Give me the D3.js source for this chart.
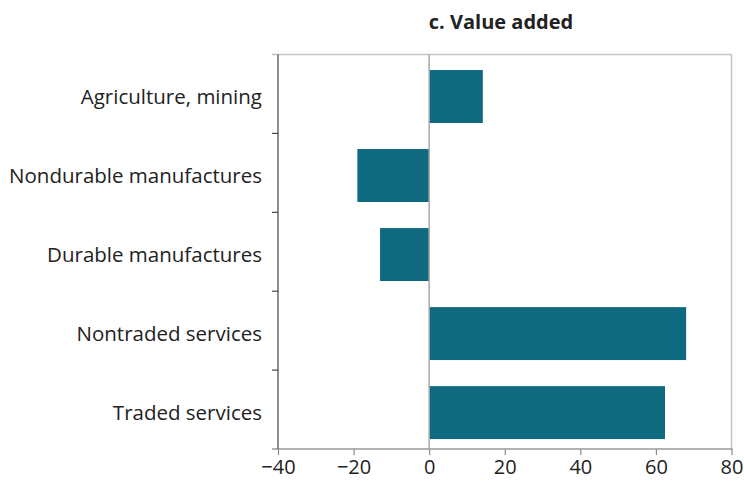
<!DOCTYPE html>
<html><head><meta charset="utf-8">
<script src="https://cdn.jsdelivr.net/npm/d3@7"></script>
<style>body{margin:0;background:#fff}svg{display:block}</style>
</head><body>
<svg id="c" width="744" height="482"></svg>
<script>
const categories = ["Agriculture, mining","Nondurable manufactures","Durable manufactures","Nontraded services","Traded services"];
const values = [14.2, -19.0, -13.0, 68.0, 62.4];
const xTicks = [-40,-20,0,20,40,60,80];
const title = "c. Value added";

const svg = d3.select("#c");
const L=278, R=731.5, T=54.5, B=449;
const font = "'Open Sans', 'Noto Sans', sans-serif";
const x = d3.scaleLinear().domain([-40,80]).range([L,R]);
const y = d3.scaleBand().domain(categories).range([T,B]).paddingInner(0.33).paddingOuter(0.161).align(0.61);
const yb = d3.scaleLinear().domain([0,categories.length]).range([T,B]);

// frame top/right
svg.append("line").attr("x1",272).attr("x2",R).attr("y1",T).attr("y2",T).attr("stroke","#c4c4c4").attr("stroke-width",1.5);
svg.append("line").attr("x1",R).attr("x2",R).attr("y1",T).attr("y2",B).attr("stroke","#c4c4c4").attr("stroke-width",1.5);

// bars
svg.append("g").selectAll("rect").data(values).join("rect")
  .attr("x",d=>x(Math.min(0,d))).attr("width",d=>Math.abs(x(d)-x(0)))
  .attr("y",(d,i)=>y(categories[i])).attr("height",y.bandwidth())
  .attr("fill","#0f6a80");

// zero line
svg.append("line").attr("x1",x(0)).attr("x2",x(0)).attr("y1",T).attr("y2",B).attr("stroke","#a8a8a8").attr("stroke-width",1.5);

// bottom axis
const xa = svg.append("g").attr("transform",`translate(0,${B})`)
  .call(d3.axisBottom(x).tickValues(xTicks).tickSize(6).tickPadding(5).tickFormat(d=>d<0?"\u2212"+Math.abs(d):d));
xa.select(".domain").remove();
xa.selectAll(".tick line").attr("stroke","#8a8a8a").attr("stroke-width",1.2);
xa.selectAll("text").attr("font-family",font).attr("font-size",20).attr("fill","#222");
svg.append("line").attr("x1",272).attr("x2",R+1).attr("y1",B).attr("y2",B).attr("stroke","#9a9a9a").attr("stroke-width",1.5);

// left axis
svg.append("line").attr("x1",L).attr("x2",L).attr("y1",T).attr("y2",B).attr("stroke","#444").attr("stroke-width",1.2);
const bounds = d3.range(1,categories.length).map(k=>yb(k));
svg.append("g").selectAll("line").data(bounds).join("line")
  .attr("x1",272).attr("x2",L).attr("y1",d=>d).attr("y2",d=>d).attr("stroke","#444").attr("stroke-width",1.2);

svg.append("g").selectAll("text").data(categories).join("text")
  .attr("x",262).attr("y",d=>y(d)+y.bandwidth()/2).attr("dy","0.35em")
  .attr("text-anchor","end").attr("font-family",font).attr("font-size",20.5).attr("fill","#222")
  .text(d=>d);

svg.append("text").attr("x",501).attr("y",29).attr("text-anchor","middle")
  .attr("font-family",font).attr("font-weight","bold").attr("font-size",20).attr("fill","#222").text(title);
</script>
</body></html>
